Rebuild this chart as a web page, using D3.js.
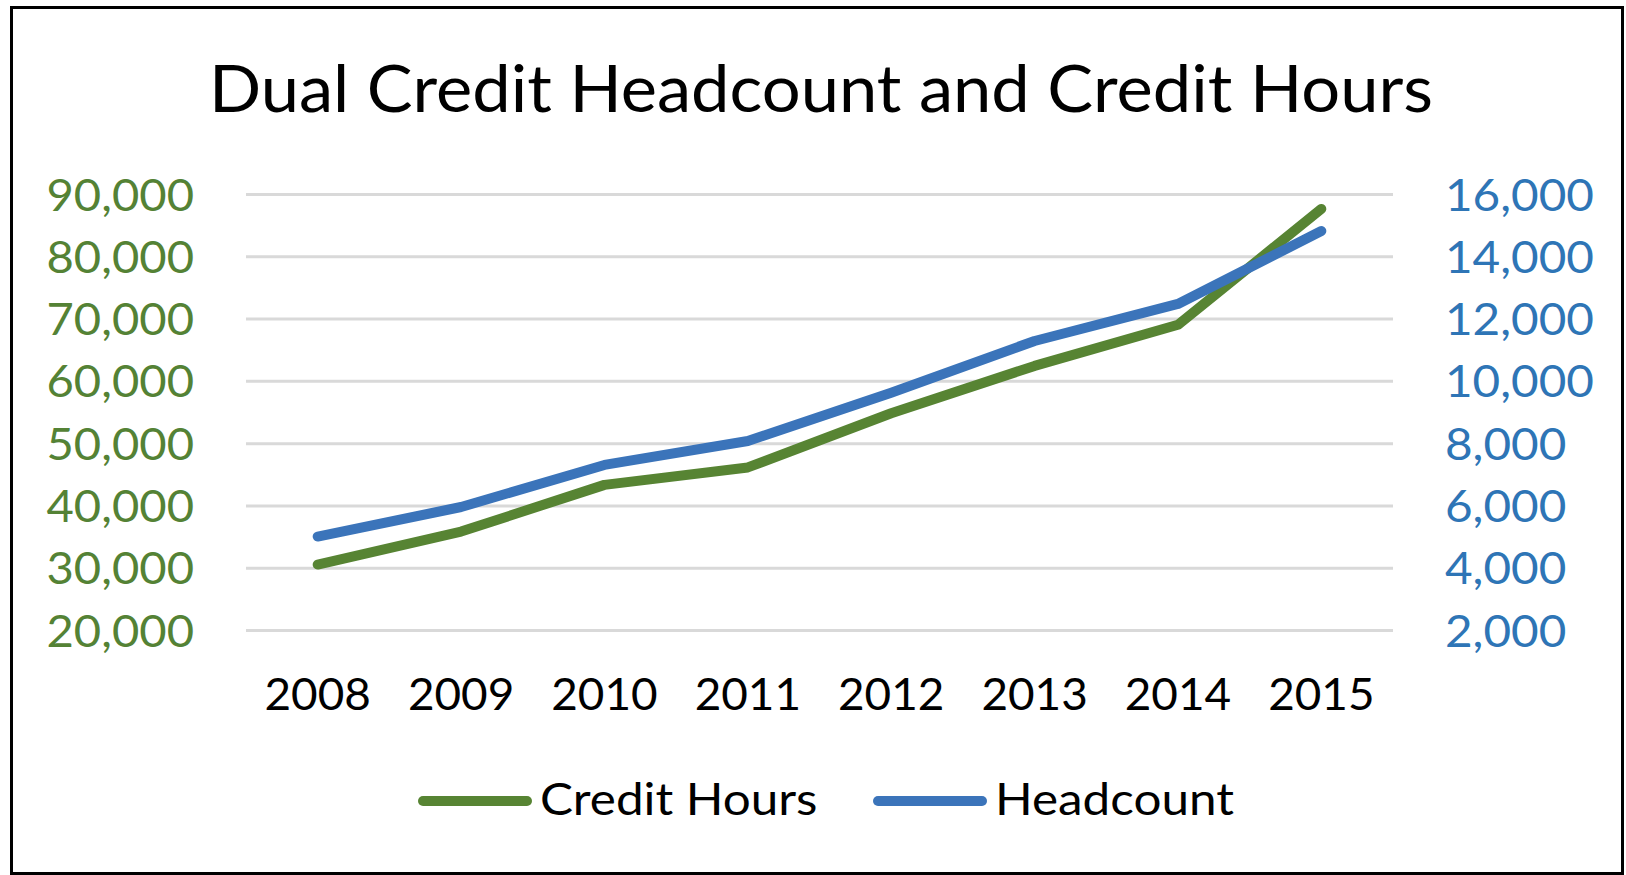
<!DOCTYPE html>
<html>
<head>
<meta charset="utf-8">
<script src="https://cdn.jsdelivr.net/npm/d3@7"></script>
<style>
  html, body { margin: 0; padding: 0; background: #ffffff; }
  svg { display: block; }
  text { font-family: Lato, "Open Sans", "Noto Sans", sans-serif; }
</style>
</head>
<body>
<svg id="chart" width="1626" height="875"></svg>
<script>
// Years on the category axis
const years = ["2008", "2009", "2010", "2011", "2012", "2013", "2014", "2015"];
// Dual credit hours (left axis)
const creditHours = [30500, 35800, 43300, 46100, 54800, 62400, 69000, 87600];
// Dual credit headcount (right axis)
const headcount = [5000, 5950, 7300, 8070, 9620, 11280, 12470, 14810];
// Axis tick values
const leftTicks = [20000, 30000, 40000, 50000, 60000, 70000, 80000, 90000];
const rightTicks = [2000, 4000, 6000, 8000, 10000, 12000, 14000, 16000];
const seriesNames = ["Credit Hours", "Headcount"];

const W = 1626, H = 875;
const plot = { left: 246, right: 1393, top: 194, bottom: 630 };
const green = "#578433", greenText = "#548235";
const blue = "#3b74ba", blueText = "#2e75b6";

const svg = d3.select("#chart");

// widen glyphs slightly so the humanist face runs as wide as the original type
function widen(sel, k) {
  sel.each(function () {
    const len = this.getComputedTextLength();
    d3.select(this).attr("textLength", len * k).attr("lengthAdjust", "spacingAndGlyphs");
  });
}

svg.append("rect").attr("width", W).attr("height", H).attr("fill", "#fff");
// chart frame
svg.append("rect")
  .attr("x", 11.5).attr("y", 7.5)
  .attr("width", 1611).attr("height", 866)
  .attr("fill", "none").attr("stroke", "#000").attr("stroke-width", 3);

const x = d3.scaleBand().domain(years).range([plot.left, plot.right]);
const yL = d3.scaleLinear().domain([20000, 90000]).range([plot.bottom, plot.top]);
const yR = d3.scaleLinear().domain([2000, 16000]).range([plot.bottom, plot.top]);
const fmt = d3.format(",");

// title
svg.append("text")
  .attr("x", 821).attr("y", 112)
  .attr("text-anchor", "middle")
  .attr("font-size", 66)
  .attr("fill", "#000")
  .text("Dual Credit Headcount and Credit Hours")
  .call(widen, 1.04);

// left axis with gridlines
const gL = svg.append("g").attr("transform", `translate(${plot.left},0)`)
  .call(d3.axisLeft(yL).tickValues(leftTicks).tickFormat(fmt)
    .tickSizeInner(-(plot.right - plot.left)).tickSizeOuter(0).tickPadding(52));
gL.select(".domain").remove();
gL.selectAll(".tick line").attr("stroke", "#d9d9d9").attr("stroke-width", 3);
gL.selectAll(".tick text")
  .attr("font-size", 44.5).attr("fill", greenText).attr("dy", "0.36em")
  .attr("font-family", "Lato, 'Open Sans', sans-serif")
  .call(widen, 1.06);

// right axis
const gR = svg.append("g").attr("transform", `translate(${plot.right},0)`)
  .call(d3.axisRight(yR).tickValues(rightTicks).tickFormat(fmt)
    .tickSize(0).tickPadding(52));
gR.select(".domain").remove();
gR.selectAll(".tick text")
  .attr("font-size", 44.5).attr("fill", blueText).attr("dy", "0.36em")
  .attr("font-family", "Lato, 'Open Sans', sans-serif")
  .call(widen, 1.07);

// category axis
const gX = svg.append("g").attr("transform", `translate(0,${plot.bottom})`)
  .call(d3.axisBottom(x).tickSize(0).tickPadding(0));
gX.select(".domain").remove();
gX.selectAll(".tick text")
  .attr("font-size", 44.5).attr("fill", "#000").attr("y", 80).attr("dy", 0)
  .attr("font-family", "Lato, 'Open Sans', sans-serif")
  .call(widen, 1.03);

const cx = d => x(d) + x.bandwidth() / 2;

const lineL = d3.line().x((d, i) => cx(years[i])).y(d => yL(d));
const lineR = d3.line().x((d, i) => cx(years[i])).y(d => yR(d));

svg.append("path").datum(creditHours)
  .attr("d", lineL).attr("fill", "none")
  .attr("stroke", green).attr("stroke-width", 10)
  .attr("stroke-linecap", "round").attr("stroke-linejoin", "round");

svg.append("path").datum(headcount)
  .attr("d", lineR).attr("fill", "none")
  .attr("stroke", blue).attr("stroke-width", 10)
  .attr("stroke-linecap", "round").attr("stroke-linejoin", "round");

// legend
const legendItems = [
  { name: seriesNames[0], color: green, x: 418 },
  { name: seriesNames[1], color: blue, x: 873 }
];
const lg = svg.append("g").selectAll("g").data(legendItems).join("g")
  .attr("transform", d => `translate(${d.x},801)`);
lg.append("line")
  .attr("x1", 5).attr("x2", 109).attr("y1", 0).attr("y2", 0)
  .attr("stroke", d => d.color).attr("stroke-width", 10)
  .attr("stroke-linecap", "round");
lg.append("text")
  .attr("x", 122).attr("y", 14)
  .attr("font-size", 44.5).attr("fill", "#000")
  .text(d => d.name)
  .call(widen, 1.11);
</script>
</body>
</html>
